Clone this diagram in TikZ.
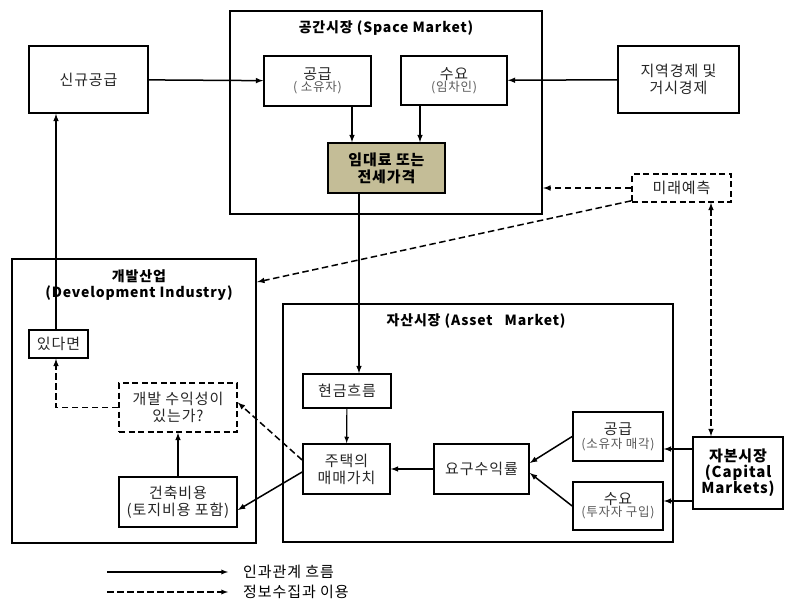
\documentclass[tikz,border=0pt]{standalone}
\usepackage{fontspec}
\setmainfont[LetterSpace=6]{Noto Sans CJK KR}
\usetikzlibrary{arrows}
\definecolor{tanfill}{HTML}{C4BD97}
\definecolor{subgray}{HTML}{595959}
\newcommand{\subtxt}[1]{{\fontsize{12.5}{13}\selectfont\color{subgray}#1}}

\begin{document}
\begin{tikzpicture}[x=1pt,y=-1pt,>=latex,
	frame/.style={draw,line width=2.4pt,inner sep=0pt},
	box/.style={draw,line width=1.7pt,align=center,inner sep=1pt,text=black!85,
		font=\fontsize{15}{17}\selectfont},
	dbox/.style={box,dash pattern=on 6pt off 3.5pt},
	ttl/.style={align=center,font=\bfseries\fontsize{14}{16}\selectfont},
	flow/.style={->,line width=1.5pt},
	info/.style={->,line width=1.5pt,dash pattern=on 6.5pt off 3.5pt}]
	\useasboundingbox (0,0) rectangle (787,607);

	%outer frames
	\node[frame,minimum width=312pt,minimum height=203pt] (spaceM) at (386,112.5) {};
	\node[frame,minimum width=244pt,minimum height=284pt] (devI) at (134,401) {};
	\node[frame,minimum width=390pt,minimum height=238pt] (assetM) at (478,423) {};

	%titles
	\node[ttl] (spaceT) at (386,28) {공간시장 (Space Market)};
	\node[ttl] (devT) at (139,285) {개발산업\\(Development Industry)};
	\node[ttl] (assetT) at (476,321) {자산시장 (Asset\ \ \ Market)};

	%space market
	\node[box,minimum width=119pt,minimum height=67pt] (newS) at (88.5,79.5) {신규공급};
	\node[box,minimum width=107pt,minimum height=50pt] (supS) at (317.5,81) {공급\\[-5pt]\subtxt{( 소유자)}};
	\node[box,minimum width=106pt,minimum height=49pt] (demS) at (454,80.5) {수요\\[-5pt]\subtxt{(임차인)}};
	\node[box,fill=tanfill,font=\bfseries\fontsize{15}{17}\selectfont,text=black,
		minimum width=117pt,minimum height=50pt] (rent) at (386.5,168) {임대료 또는\\전세가격};
	\node[box,minimum width=121pt,minimum height=67pt] (econ) at (678.5,79.5) {지역경제 및\\거시경제};
	\node[dbox,minimum width=99pt,minimum height=28pt] (fcst) at (681.5,188) {미래예측};

	%development industry
	\node[box,minimum width=59pt,minimum height=28pt] (ifso) at (58.5,344) {있다면};
	\node[dbox,minimum width=118pt,minimum height=49pt] (profit) at (178,407.5) {개발 수익성이\\있는가?};
	\node[box,minimum width=118pt,minimum height=50pt] (cost) at (178,502) {건축비용\\(토지비용 포함)};

	%asset market
	\node[box,minimum width=88pt,minimum height=34pt] (cash) at (347,391) {현금흐름};
	\node[box,minimum width=87pt,minimum height=50pt] (value) at (346.5,469) {주택의\\매매가치};
	\node[box,minimum width=95pt,minimum height=50pt] (req) at (481.5,469) {요구수익률};
	\node[box,minimum width=90pt,minimum height=49pt] (asup) at (618,436.5) {공급\\[-3pt]\subtxt{(소유자 매각)}};
	\node[box,minimum width=90pt,minimum height=48pt] (adem) at (618,506) {수요\\[-5pt]\subtxt{(투자자 구입)}};
	\node[box,text=black,font=\bfseries\fontsize{15}{16}\selectfont,
		minimum width=90pt,minimum height=72pt] (cap) at (738,473) {자본시장\\(Capital\\Markets)};

	%causal arrows
	\draw[flow] (newS) -- (supS);
	\draw[flow] (econ) -- (demS);
	\draw[flow] ([xshift=-34.5pt]rent.north |- supS.south) -- ([xshift=-34.5pt]rent.north);
	\draw[flow] ([xshift=33.5pt]rent.north |- demS.south) -- ([xshift=33.5pt]rent.north);
	\draw[flow] ([xshift=-27.5pt]rent.south) -- ([xshift=-27.5pt]rent.south |- cash.north);
	\draw[flow,line width=1.2pt] (cash) -- (value);
	\draw[flow] (req) -- (value);
	\draw[flow] (asup.west) -- ([yshift=6pt]req.east);
	\draw[flow] (adem.west) -- ([yshift=-4pt]req.east);
	\draw[flow] ([yshift=24pt]cap.west) -- ([yshift=24pt]cap.west -| asup.east);
	\draw[flow] ([yshift=-28pt]cap.west) -- ([yshift=-28pt]cap.west -| adem.east);
	\draw[flow] ([yshift=-3pt]value.west) -- ([yshift=-8pt]cost.east);
	\draw[flow] (cost) -- (profit);
	\draw[flow] ([xshift=-2.5pt]ifso.north) -- ([xshift=-2.5pt]ifso.north |- newS.south);

	%information arrows
	\draw[info] ([yshift=9pt]value.west) -- ([yshift=5pt]profit.east);
	\draw[info] (profit.west) -| ([xshift=-2.5pt]ifso.south);
	\draw[info] (fcst.west) -- (fcst.west -| spaceM.east);
	\draw[info] ([yshift=2pt]fcst.south west) -- ([yshift=119pt]devI.east);
	\draw[info,<->] ([xshift=29.5pt]fcst.south) -- ([xshift=29.5pt]fcst.south |- cap.north);

	%legend
	\coordinate (lgA) at (107,572);
	\coordinate (lgB) at (107,592);
	\node[anchor=west,inner sep=0pt,font=\fontsize{15}{17}\selectfont] (lgFlow) at (243,572) {인과관계 흐름};
	\node[anchor=west,inner sep=0pt,font=\fontsize{15}{17}\selectfont] (lgInfo) at (243,592) {정보수집과 이용};
	\draw[flow,line width=1.3pt] (lgA) -- ([xshift=-15pt]lgFlow.west);
	\draw[info,line width=1.3pt] (lgB) -- ([xshift=-15pt]lgInfo.west);
\end{tikzpicture}
\end{document}
